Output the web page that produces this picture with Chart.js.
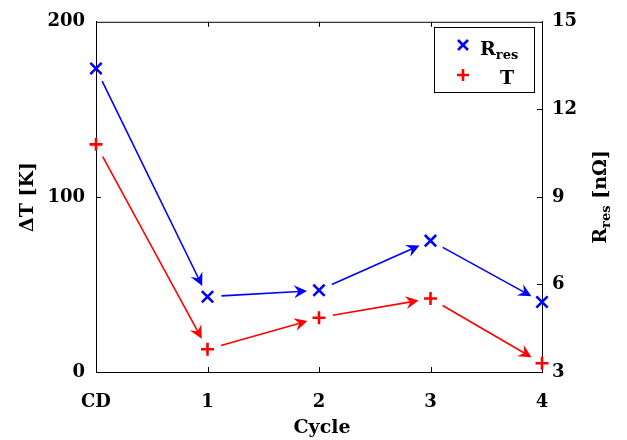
<!DOCTYPE html>
<html>
<head>
<meta charset="utf-8">
<script src="https://cdn.jsdelivr.net/npm/chart.js@4"></script>
<style>
  html, body { margin: 0; padding: 0; background: #fff; }
</style>
</head>
<body>
<canvas id="cycleChart" width="627" height="440"></canvas>
<script>
const cycles = ['CD', '1', '2', '3', '4'];
const rRes = [13.4, 5.58, 5.8, 7.5, 5.4];   // nΩ, right axis
const deltaT = [130, 13, 31, 42, 5];         // K, left axis
const tTicks = [0, 100, 200];
const rTicks = [3, 6, 9, 12, 15];

const BLUE = '#0000ff';
const RED = '#ff0000';
const FONT = '"DejaVu Serif", serif';

// arrow from one point towards the next, stopped short of both markers
function drawArrow(ctx, p0, p1, color) {
  const dx = p1.x - p0.x, dy = p1.y - p0.y;
  const len = Math.hypot(dx, dy);
  const ux = dx / len, uy = dy / len;
  const sx = p0.x + ux * 14, sy = p0.y + uy * 14;
  const tx = p1.x - ux * 12, ty = p1.y - uy * 12;
  const hl = 13, hw = 6.5, notch = 4.5;
  ctx.save();
  ctx.strokeStyle = color;
  ctx.fillStyle = color;
  ctx.lineWidth = 1.6;
  ctx.beginPath();
  ctx.moveTo(sx, sy);
  ctx.lineTo(tx - ux * 8, ty - uy * 8);
  ctx.stroke();
  const bx = tx - ux * hl, by = ty - uy * hl;
  ctx.beginPath();
  ctx.moveTo(tx, ty);
  ctx.lineTo(bx - uy * hw, by + ux * hw);
  ctx.lineTo(tx - ux * (hl - notch), ty - uy * (hl - notch));
  ctx.lineTo(bx + uy * hw, by - ux * hw);
  ctx.closePath();
  ctx.fill();
  ctx.restore();
}

const arrowPlugin = {
  id: 'arrows',
  afterDatasetsDraw(chart) {
    const ctx = chart.ctx;
    chart.data.datasets.forEach((ds, i) => {
      const pts = chart.getDatasetMeta(i).data;
      for (let j = 0; j < pts.length - 1; j++) {
        drawArrow(ctx, pts[j], pts[j + 1], ds.borderColor);
      }
    });
  }
};

// box, inward ticks, axis titles and legend
const decorPlugin = {
  id: 'decor',
  afterDraw(chart) {
    const ctx = chart.ctx;
    const a = chart.chartArea;
    const x = chart.scales.x, y = chart.scales.y, y1 = chart.scales.y1;
    ctx.save();
    ctx.strokeStyle = '#000';
    ctx.lineWidth = 1;
    ctx.beginPath();
    ctx.moveTo(a.left, a.top + 0.5);
    ctx.lineTo(a.right, a.top + 0.5);
    for (let i = 1; i < cycles.length - 1; i++) {
      const px = Math.round(x.getPixelForValue(i)) + 0.5;
      ctx.moveTo(px, a.bottom); ctx.lineTo(px, a.bottom - 5);
      ctx.moveTo(px, a.top); ctx.lineTo(px, a.top + 5);
    }
    tTicks.slice(1, -1).forEach(v => {
      const py = Math.round(y.getPixelForValue(v)) + 0.5;
      ctx.moveTo(a.left, py); ctx.lineTo(a.left + 5, py);
    });
    rTicks.slice(1, -1).forEach(v => {
      const py = Math.round(y1.getPixelForValue(v)) + 0.5;
      ctx.moveTo(a.right, py); ctx.lineTo(a.right - 5, py);
    });
    ctx.stroke();

    ctx.fillStyle = '#000';
    ctx.textBaseline = 'middle';
    ctx.textAlign = 'center';
    ctx.font = 'bold 19px ' + FONT;
    ctx.fillText('Cycle', (a.left + a.right) / 2 + 3, 428);

    // left title
    ctx.save();
    ctx.translate(28, (a.top + a.bottom) / 2);
    ctx.rotate(-Math.PI / 2);
    ctx.fillText('\u0394T [K]', 0, 0);
    ctx.restore();

    // right title with subscript
    ctx.save();
    ctx.translate(599, (a.top + a.bottom) / 2);
    ctx.rotate(-Math.PI / 2);
    ctx.textAlign = 'left';
    ctx.textBaseline = 'alphabetic';
    const big = 'bold 19px ' + FONT, small = 'bold 13px ' + FONT;
    ctx.font = big; const wR = ctx.measureText('R').width;
    const wU = ctx.measureText(' [n\u03a9]').width;
    ctx.font = small; const wS = ctx.measureText('res').width;
    let cx = -(wR + wS + wU) / 2;
    ctx.font = big; ctx.fillText('R', cx, 7); cx += wR;
    ctx.font = small; ctx.fillText('res', cx, 11); cx += wS;
    ctx.font = big; ctx.fillText(' [n\u03a9]', cx, 7);
    ctx.restore();

    // legend
    ctx.strokeStyle = '#000';
    ctx.lineWidth = 1;
    ctx.strokeRect(434.5, 27.5, 100, 65);
    ctx.lineWidth = 2.6;
    ctx.strokeStyle = BLUE;
    ctx.beginPath();
    ctx.moveTo(458, 40); ctx.lineTo(468, 50);
    ctx.moveTo(468, 40); ctx.lineTo(458, 50);
    ctx.stroke();
    ctx.strokeStyle = RED;
    ctx.beginPath();
    ctx.moveTo(457, 75); ctx.lineTo(469, 75);
    ctx.moveTo(463, 69); ctx.lineTo(463, 81);
    ctx.stroke();
    ctx.textAlign = 'left';
    ctx.textBaseline = 'alphabetic';
    ctx.font = big; ctx.fillText('R', 480, 55);
    const rw = ctx.measureText('R').width;
    ctx.font = small; ctx.fillText('res', 480 + rw, 59);
    ctx.font = big; ctx.fillText('T', 500, 84);
    ctx.restore();
  }
};

new Chart(document.getElementById('cycleChart'), {
  type: 'line',
  data: {
    labels: cycles,
    datasets: [
      {
        label: 'Rres',
        data: rRes,
        yAxisID: 'y1',
        showLine: false,
        borderColor: BLUE,
        backgroundColor: BLUE,
        pointStyle: 'crossRot',
        pointRadius: 8,
        pointBorderWidth: 2.6,
        pointHoverRadius: 8
      },
      {
        label: 'T',
        data: deltaT,
        yAxisID: 'y',
        showLine: false,
        borderColor: RED,
        backgroundColor: RED,
        pointStyle: 'cross',
        pointRadius: 6.5,
        pointBorderWidth: 2.6,
        pointHoverRadius: 6.5
      }
    ]
  },
  options: {
    responsive: false,
    animation: false,
    events: [],
    layout: { padding: { top: 20, left: 0, right: 0, bottom: 0 } },
    plugins: {
      legend: { display: false },
      tooltip: { enabled: false }
    },
    scales: {
      x: {
        type: 'category',
        offset: false,
        grid: { display: false, drawTicks: false },
        border: { display: true, color: '#000', width: 1 },
        ticks: {
          color: '#000',
          padding: 20,
          maxRotation: 0,
          font: { family: FONT, size: 18, weight: 'bold' }
        },
        afterFit(scale) { scale.height = 68; }
      },
      y: {
        position: 'left',
        min: 0,
        max: 200,
        afterBuildTicks(scale) { scale.ticks = tTicks.map(v => ({ value: v })); },
        grid: { display: false, drawTicks: false },
        border: { display: true, color: '#000', width: 1 },
        ticks: {
          color: '#000',
          padding: 11,
          font: { family: FONT, size: 18, weight: 'bold' }
        },
        afterFit(scale) { scale.width = 96; }
      },
      y1: {
        position: 'right',
        min: 3,
        max: 15,
        afterBuildTicks(scale) { scale.ticks = rTicks.map(v => ({ value: v })); },
        grid: { display: false, drawTicks: false },
        border: { display: true, color: '#000', width: 1 },
        ticks: {
          color: '#000',
          padding: 10,
          font: { family: FONT, size: 18, weight: 'bold' }
        },
        afterFit(scale) { scale.width = 85; }
      }
    }
  },
  plugins: [arrowPlugin, decorPlugin]
});
</script>
</body>
</html>
